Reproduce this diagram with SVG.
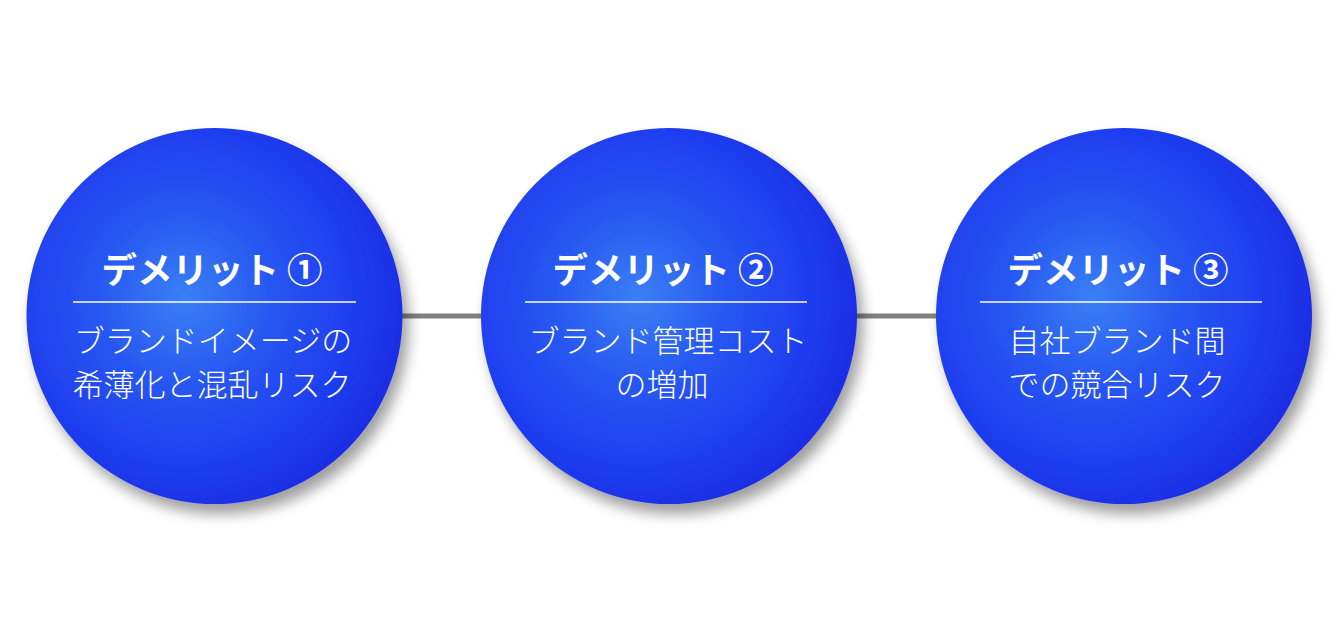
<svg xmlns="http://www.w3.org/2000/svg" width="1344" height="633" viewBox="0 0 1344 633">
<style>
.title{font-family:"Noto Sans CJK JP","Noto Sans",sans-serif;font-weight:700;font-size:35.5px;fill:#fff;text-anchor:middle}
.body{font-family:"Noto Sans CJK JP","Noto Sans",sans-serif;font-weight:300;font-size:31px;fill:#fff;text-anchor:middle}
.rule{stroke:#fff;stroke-width:1.6}
.ball{fill:url(#g);filter:url(#sh)}
</style>
<defs>
<radialGradient id="g" cx="0.42" cy="0.45" r="0.68">
<stop offset="0" stop-color="#3a80f5"/>
<stop offset="0.35" stop-color="#2756f1"/>
<stop offset="0.65" stop-color="#1f3ff0"/>
<stop offset="1" stop-color="#1a22dc"/>
</radialGradient>
<filter id="sh" x="-20%" y="-20%" width="150%" height="150%">
<feGaussianBlur in="SourceAlpha" stdDeviation="7"/>
<feOffset dx="6" dy="10" result="b"/>
<feComponentTransfer><feFuncA type="linear" slope="0.38"/></feComponentTransfer>
<feMerge><feMergeNode/><feMergeNode in="SourceGraphic"/></feMerge>
</filter>
</defs>
<rect width="1344" height="633" fill="#fff"/>
<g id="connectors" stroke="#808080" stroke-width="5">
<line x1="400" y1="316" x2="484" y2="316"/>
<line x1="855" y1="316" x2="939" y2="316"/>
</g>
<g id="node1">
<circle class="ball" cx="214.5" cy="316" r="188"/>
<text class="title" x="212" y="283">デメリット ①</text>
<line class="rule" x1="73" y1="302" x2="356" y2="302"/>
<text class="body" x="213" y="352">ブランドイメージの</text>
<text class="body" x="212" y="396">希薄化と混乱リスク</text>
</g>
<g id="node2">
<circle class="ball" cx="669" cy="316" r="188"/>
<text class="title" x="663" y="283">デメリット ②</text>
<line class="rule" x1="525" y1="302" x2="807" y2="302"/>
<text class="body" x="668" y="352">ブランド管理コスト</text>
<text class="body" x="662" y="396">の増加</text>
</g>
<g id="node3">
<circle class="ball" cx="1124" cy="316" r="188"/>
<text class="title" x="1118" y="283">デメリット ③</text>
<line class="rule" x1="980" y1="302" x2="1262" y2="302"/>
<text class="body" x="1117" y="352">自社ブランド間</text>
<text class="body" x="1117" y="396">での競合リスク</text>
</g>
</svg>
